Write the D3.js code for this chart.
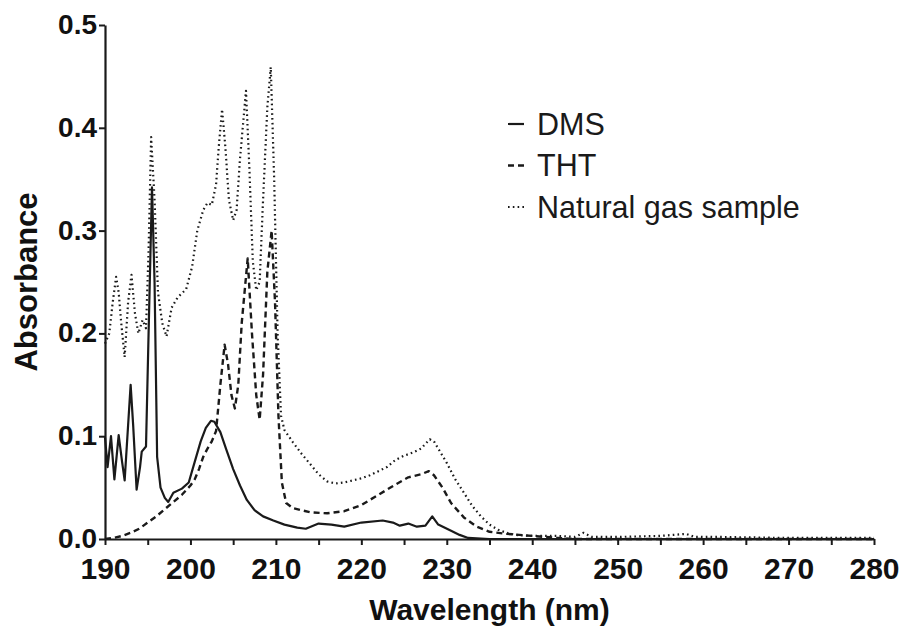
<!DOCTYPE html>
<html>
<head>
<meta charset="utf-8">
<script src="https://cdn.jsdelivr.net/npm/d3@7"></script>
<style>
  body { margin: 0; background: #fff; }
  svg { display: block; }
</style>
</head>
<body>
<svg id="chart"></svg>
<script>
// values (wavelength in nm, absorbance)
const dmsWl = [190.0, 190.3, 190.7, 191.1, 191.6, 192.0, 192.3, 192.7, 193.0, 193.3, 193.7, 194.1, 194.3, 194.8, 195.1, 195.5, 195.8, 196.1, 196.5, 197.0, 197.4, 198.0, 199.0, 199.8, 200.5, 201.2, 201.8, 202.4, 202.8, 203.5, 204.2, 205.0, 205.8, 206.6, 207.5, 208.5, 209.7, 211.0, 212.5, 213.5, 215.0, 216.5, 218.0, 220.0, 222.5, 223.7, 224.5, 225.5, 226.5, 227.5, 228.3, 229.0, 230.5, 231.5, 232.5, 235, 280];
const dmsAbs = [0.099, 0.07, 0.1, 0.058, 0.101, 0.075, 0.057, 0.11, 0.15, 0.11, 0.048, 0.07, 0.085, 0.09, 0.2, 0.342, 0.25, 0.08, 0.05, 0.04, 0.036, 0.045, 0.049, 0.055, 0.075, 0.095, 0.108, 0.115, 0.114, 0.104, 0.087, 0.068, 0.052, 0.038, 0.028, 0.022, 0.018, 0.014, 0.011, 0.01, 0.015, 0.014, 0.012, 0.016, 0.018, 0.016, 0.013, 0.015, 0.012, 0.013, 0.022, 0.014, 0.008, 0.004, 0.001, 0, 0];

const thtWl = [190, 191, 192, 193, 194, 195, 196, 197, 198, 199, 200, 200.5, 201, 201.5, 202, 202.5, 203, 203.5, 204, 204.4, 204.8, 205.2, 205.6, 206, 206.7, 207.2, 207.7, 208.1, 208.5, 209, 209.5, 209.9, 210.3, 210.7, 211.2, 212, 214, 216, 218, 220, 222, 224, 225.5, 227, 227.9, 228.5, 229.5, 230.5, 232, 233.5, 235, 237, 240, 243, 245, 280];
const thtAbs = [0, 0.001, 0.003, 0.006, 0.01, 0.016, 0.022, 0.029, 0.036, 0.043, 0.052, 0.058, 0.068, 0.08, 0.088, 0.095, 0.105, 0.15, 0.189, 0.17, 0.14, 0.127, 0.15, 0.21, 0.273, 0.2, 0.14, 0.116, 0.16, 0.26, 0.3, 0.23, 0.12, 0.055, 0.035, 0.03, 0.026, 0.025, 0.027, 0.033, 0.043, 0.053, 0.06, 0.063, 0.066, 0.062, 0.05, 0.035, 0.021, 0.012, 0.007, 0.005, 0.003, 0.001, 0, 0];

const gasWl = [190.0, 190.5, 190.9, 191.3, 191.6, 191.9, 192.3, 192.7, 193.1, 193.5, 193.9, 194.4, 194.8, 195.1, 195.4, 195.8, 196.2, 196.7, 197.2, 197.8, 198.5, 199.5, 200.2, 200.8, 201.5, 202.0, 202.5, 203.0, 203.3, 203.7, 204.1, 204.5, 205.0, 205.4, 205.8, 206.5, 206.9, 207.3, 207.7, 208.1, 208.5, 209.0, 209.4, 209.8, 210.2, 210.6, 211, 212, 213, 214, 215, 216, 217, 218, 219, 220, 221, 222, 223, 224, 225, 226, 227, 228, 228.5, 229, 230, 231, 232, 233, 234, 235, 236, 237, 238, 240, 243, 245, 246, 247, 250, 255, 258, 259, 262, 270, 280];
const gasAbs = [0.19, 0.2, 0.23, 0.255, 0.24, 0.21, 0.177, 0.23, 0.257, 0.22, 0.2, 0.213, 0.205, 0.28, 0.391, 0.33, 0.24, 0.21, 0.197, 0.225, 0.235, 0.243, 0.265, 0.3, 0.32, 0.327, 0.325, 0.345, 0.38, 0.418, 0.38, 0.33, 0.31, 0.32, 0.37, 0.436, 0.36, 0.27, 0.242, 0.25, 0.33, 0.42, 0.459, 0.35, 0.2, 0.12, 0.106, 0.094, 0.083, 0.073, 0.063, 0.056, 0.054, 0.055, 0.057, 0.059, 0.062, 0.066, 0.07, 0.077, 0.081, 0.084, 0.088, 0.097, 0.095, 0.088, 0.074, 0.058, 0.045, 0.032, 0.022, 0.014, 0.009, 0.006, 0.004, 0.003, 0.003, 0.002, 0.006, 0.002, 0.002, 0.003, 0.005, 0.002, 0.002, 0.001, 0.001];

const xTicks = [190, 200, 210, 220, 230, 240, 250, 260, 270, 280];
const yTicks = [0.0, 0.1, 0.2, 0.3, 0.4, 0.5];
const seriesNames = ["DMS", "THT", "Natural gas sample"];

const width = 907, height = 626;
const margin = { left: 105, right: 874, top: 25, bottom: 539 };
const ink = "#1a1a1a";
const font = "'Liberation Sans', Arial, sans-serif";

const svg = d3.select("#chart")
    .attr("width", width)
    .attr("height", height);

const x = d3.scaleLinear().domain([190, 280]).range([margin.left, margin.right]);
const y = d3.scaleLinear().domain([0, 0.5]).range([margin.bottom, margin.top]);

// axes
const xAxis = svg.append("g")
    .attr("transform", `translate(0,${margin.bottom})`)
    .call(d3.axisBottom(x)
        .tickValues(d3.range(190, 281, 5))
        .tickSize(6)
        .tickSizeOuter(0)
        .tickPadding(13)
        .tickFormat(d => xTicks.includes(d) ? d : ""));

const yAxis = svg.append("g")
    .attr("transform", `translate(${margin.left},0)`)
    .call(d3.axisLeft(y)
        .tickValues(yTicks)
        .tickSize(6)
        .tickSizeOuter(0)
        .tickPadding(2)
        .tickFormat(d3.format(".1f")));

[xAxis, yAxis].forEach(g => {
    g.select(".domain").attr("stroke", ink).attr("stroke-width", 2.2);
    g.selectAll(".tick line").attr("stroke", ink).attr("stroke-width", 2);
    g.selectAll(".tick text")
        .attr("fill", "#111")
        .style("font-family", font)
        .style("font-weight", "bold");
});
xAxis.selectAll(".tick text").style("font-size", "30px");
yAxis.selectAll(".tick text").style("font-size", "28px").attr("dy", "0.3em");

// axis titles
svg.append("text")
    .attr("x", (margin.left + margin.right) / 2)
    .attr("y", 620)
    .attr("text-anchor", "middle")
    .style("font-family", font)
    .style("font-weight", "bold")
    .style("font-size", "30px")
    .attr("fill", "#111")
    .text("Wavelength (nm)");

svg.append("text")
    .attr("transform", `translate(37,${(margin.top + margin.bottom) / 2}) rotate(-90)`)
    .attr("text-anchor", "middle")
    .style("font-family", font)
    .style("font-weight", "bold")
    .style("font-size", "31px")
    .attr("fill", "#111")
    .text("Absorbance");

// curves
const line = d3.line()
    .x(d => x(d[0]))
    .y(d => y(d[1]));

const styles = [
    { dash: null, w: 2.2 },
    { dash: "6,4", w: 2.4 },
    { dash: "1.6,3.2", w: 2.2 }
];

const series = [
    d3.zip(dmsWl, dmsAbs),
    d3.zip(thtWl, thtAbs),
    d3.zip(gasWl, gasAbs)
];

svg.append("g")
    .selectAll("path")
    .data(series)
    .join("path")
    .attr("fill", "none")
    .attr("stroke", ink)
    .attr("stroke-width", (d, i) => styles[i].w)
    .attr("stroke-dasharray", (d, i) => styles[i].dash)
    .attr("stroke-linejoin", "round")
    .attr("d", line);

// legend
const legend = svg.append("g")
    .attr("transform", "translate(508,124)");

legend.selectAll("line")
    .data(seriesNames)
    .join("line")
    .attr("x1", 0)
    .attr("x2", (d, i) => i == 0 ? 16 : 19)
    .attr("y1", (d, i) => i * 41.5)
    .attr("y2", (d, i) => i * 41.5)
    .attr("stroke", ink)
    .attr("stroke-width", (d, i) => styles[i].w)
    .attr("stroke-dasharray", (d, i) => styles[i].dash);

legend.selectAll("text")
    .data(seriesNames)
    .join("text")
    .attr("x", 29)
    .attr("y", (d, i) => i * 41.5 + 10.5)
    .style("font-family", font)
    .style("font-size", "30.5px")
    .attr("fill", "#1a1a1a")
    .text(d => d);
</script>
</body>
</html>
